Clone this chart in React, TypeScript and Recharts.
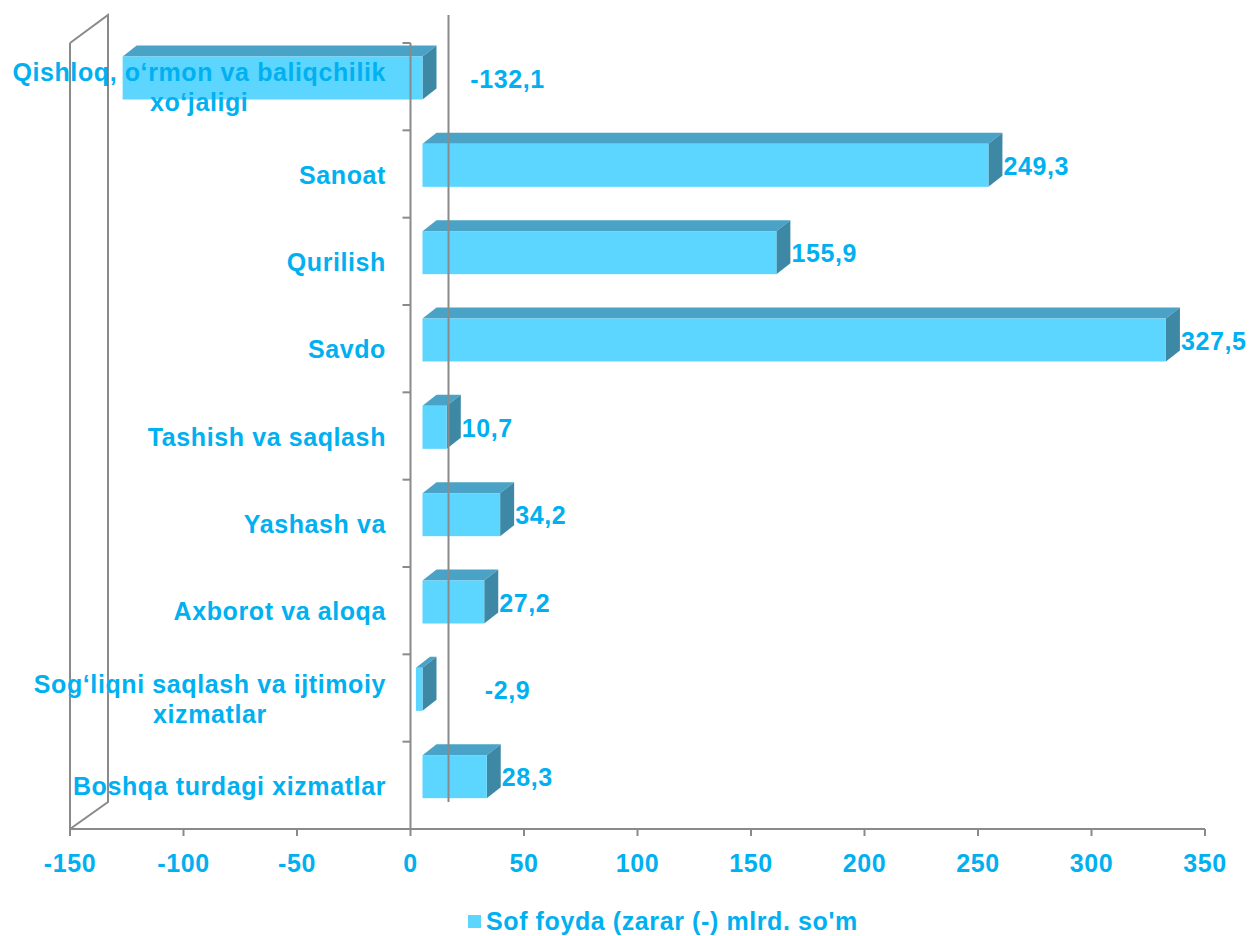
import React from "react";
import {
  Bar,
  BarChart,
  LabelList,
  ReferenceLine,
  XAxis,
  YAxis,
} from "recharts";

const categories = [
  "Qishloq, o‘rmon va baliqchilik\nxo‘jaligi",
  "Sanoat",
  "Qurilish",
  "Savdo",
  "Tashish va saqlash",
  "Yashash va",
  "Axborot va aloqa",
  "Sog‘liqni saqlash va ijtimoiy\nxizmatlar",
  "Boshqa turdagi xizmatlar",
];

const profit = [-132.1, 249.3, 155.9, 327.5, 10.7, 34.2, 27.2, -2.9, 28.3];

const xTicks = [-150, -100, -50, 0, 50, 100, 150, 200, 250, 300, 350];

const seriesName = "Sof foyda (zarar (-) mlrd. so'm";

const data = categories.map((name, i) => ({ name, value: profit[i] }));

const palette = {
  front: "#5CD6FF",
  top: "#4AA3C6",
  side: "#3D89A5",
  text: "#00B0F0",
  line: "#8A8A8A",
};

const FONT = "'Liberation Sans', Arial, sans-serif";
const FONT_SIZE = 25;
const SPACING = 0.6;

// bar box sits inside the wall depth
const FRONT_DX = 12;
const FRONT_DY = -8.5;
const DEPTH_X = 14;
const DEPTH_Y = 11;
// wall depth
const WALL_X = 38;
const WALL_Y = 27;
const LABEL_RIGHT = 386;

let measureCtx: CanvasRenderingContext2D | null = null;
function textWidth(s: string) {
  if (!measureCtx) {
    measureCtx = document.createElement("canvas").getContext("2d");
  }
  if (!measureCtx) return s.length * FONT_SIZE * 0.55;
  measureCtx.font = `bold ${FONT_SIZE}px ${FONT}`;
  return measureCtx.measureText(s).width + s.length * SPACING;
}

const textStyle = {
  fill: palette.text,
  fontFamily: FONT,
  fontWeight: "bold",
  fontSize: FONT_SIZE,
  letterSpacing: SPACING,
};

function Box3D(props: any) {
  const { x, y, width, height } = props;
  const left = Math.min(x, x + width) + FRONT_DX;
  const right = Math.max(x, x + width) + FRONT_DX;
  const top = y + FRONT_DY;
  const bottom = top + height;
  return (
    <g>
      <polygon
        points={`${left},${top} ${left + DEPTH_X},${top - DEPTH_Y} ${right + DEPTH_X},${top - DEPTH_Y} ${right},${top}`}
        fill={palette.top}
      />
      <polygon
        points={`${right},${top} ${right + DEPTH_X},${top - DEPTH_Y} ${right + DEPTH_X},${bottom - DEPTH_Y} ${right},${bottom}`}
        fill={palette.side}
      />
      <rect x={left} y={top} width={right - left} height={height} fill={palette.front} />
    </g>
  );
}

function ValueLabel(props: any) {
  const { x, y, width, height, value } = props;
  const right = Math.max(x, x + width);
  const cy = y + height / 2 + FRONT_DY + 1;
  const txt = Number(value).toFixed(1).replace(".", ",");
  if (value < 0) {
    return (
      <text x={right + 97} y={cy} textAnchor="middle" dy="0.35em" style={textStyle}>
        {txt}
      </text>
    );
  }
  return (
    <text
      x={right + FRONT_DX + DEPTH_X + 1}
      y={cy}
      textAnchor="start"
      dy="0.35em"
      style={textStyle}
    >
      {txt}
    </text>
  );
}

function CategoryTick(props: any) {
  const { y, payload } = props;
  const lines = String(payload.value).split("\n");
  const w = Math.max(...lines.map(textWidth));
  const cx = LABEL_RIGHT - w / 2;
  const lineH = 30;
  const startY = y + 1 - ((lines.length - 1) * lineH) / 2;
  return (
    <text textAnchor="middle" style={textStyle}>
      {lines.map((l, i) => (
        <tspan key={i} x={cx} y={startY + i * lineH} dy="0.35em">
          {l}
        </tspan>
      ))}
    </text>
  );
}

// left side wall: back edge and the two diagonals
function LeftWall(props: any) {
  const { x1, y1, y2 } = props;
  const top = Math.min(y1, y2);
  const bottom = Math.max(y1, y2);
  return (
    <polyline
      points={`${x1},${top} ${x1 + WALL_X},${top - WALL_Y - 1} ${x1 + WALL_X},${bottom - WALL_Y} ${x1},${bottom}`}
      fill="none"
      stroke={palette.line}
      strokeWidth={2}
    />
  );
}

// zero line on the back wall
function BackZero(props: any) {
  const { x1, y1, y2 } = props;
  const top = Math.min(y1, y2);
  const bottom = Math.max(y1, y2);
  return (
    <line
      x1={x1 + WALL_X}
      x2={x1 + WALL_X}
      y1={top - WALL_Y - 1}
      y2={bottom - WALL_Y}
      stroke={palette.line}
      strokeWidth={2}
    />
  );
}

// category axis standing at zero, ticks on band edges
function ZeroAxis(props: any) {
  const { x1, y1, y2 } = props;
  const top = Math.min(y1, y2);
  const bottom = Math.max(y1, y2);
  const step = (bottom - top) / categories.length;
  return (
    <g>
      <line x1={x1} x2={x1} y1={top} y2={bottom} stroke={palette.line} strokeWidth={2} />
      {categories.map((_, i) => (
        <line
          key={i}
          x1={x1 - 8}
          x2={x1}
          y1={top + i * step}
          y2={top + i * step}
          stroke={palette.line}
          strokeWidth={2}
        />
      ))}
    </g>
  );
}

export default function App() {
  return (
    <div
      style={{
        position: "absolute",
        left: 0,
        top: 0,
        width: 1249,
        height: 936,
        background: "#fff",
      }}
    >
      <BarChart
        width={1249}
        height={936}
        data={data}
        layout="vertical"
        margin={{ top: 43, right: 44, left: 0, bottom: 77 }}
      >
        <XAxis
          type="number"
          domain={[-150, 350]}
          ticks={xTicks}
          interval={0}
          height={30}
          axisLine={{ stroke: palette.line, strokeWidth: 2 }}
          tickLine={{ stroke: palette.line, strokeWidth: 2 }}
          tickSize={7}
          tickMargin={18}
          tick={textStyle}
        />
        <ReferenceLine x={-150} shape={LeftWall} />
        <ReferenceLine x={0} shape={BackZero} />
        <Bar
          dataKey="value"
          name={seriesName}
          barSize={43}
          shape={Box3D}
          isAnimationActive={false}
        >
          <LabelList dataKey="value" content={ValueLabel} />
        </Bar>
        <ReferenceLine x={0} shape={ZeroAxis} />
        <YAxis
          type="category"
          dataKey="name"
          width={70}
          interval={0}
          tickLine={false}
          axisLine={{ stroke: palette.line, strokeWidth: 2 }}
          tick={CategoryTick}
        />
      </BarChart>
      <div
        style={{
          position: "absolute",
          left: 468,
          top: 907,
          display: "flex",
          alignItems: "center",
          gap: 5,
          fontFamily: FONT,
          fontWeight: "bold",
          fontSize: FONT_SIZE,
          letterSpacing: SPACING,
          color: palette.text,
          whiteSpace: "nowrap",
        }}
      >
        <span
          style={{
            display: "inline-block",
            width: 13,
            height: 13,
            background: palette.front,
          }}
        />
        <span>{seriesName}</span>
      </div>
    </div>
  );
}
